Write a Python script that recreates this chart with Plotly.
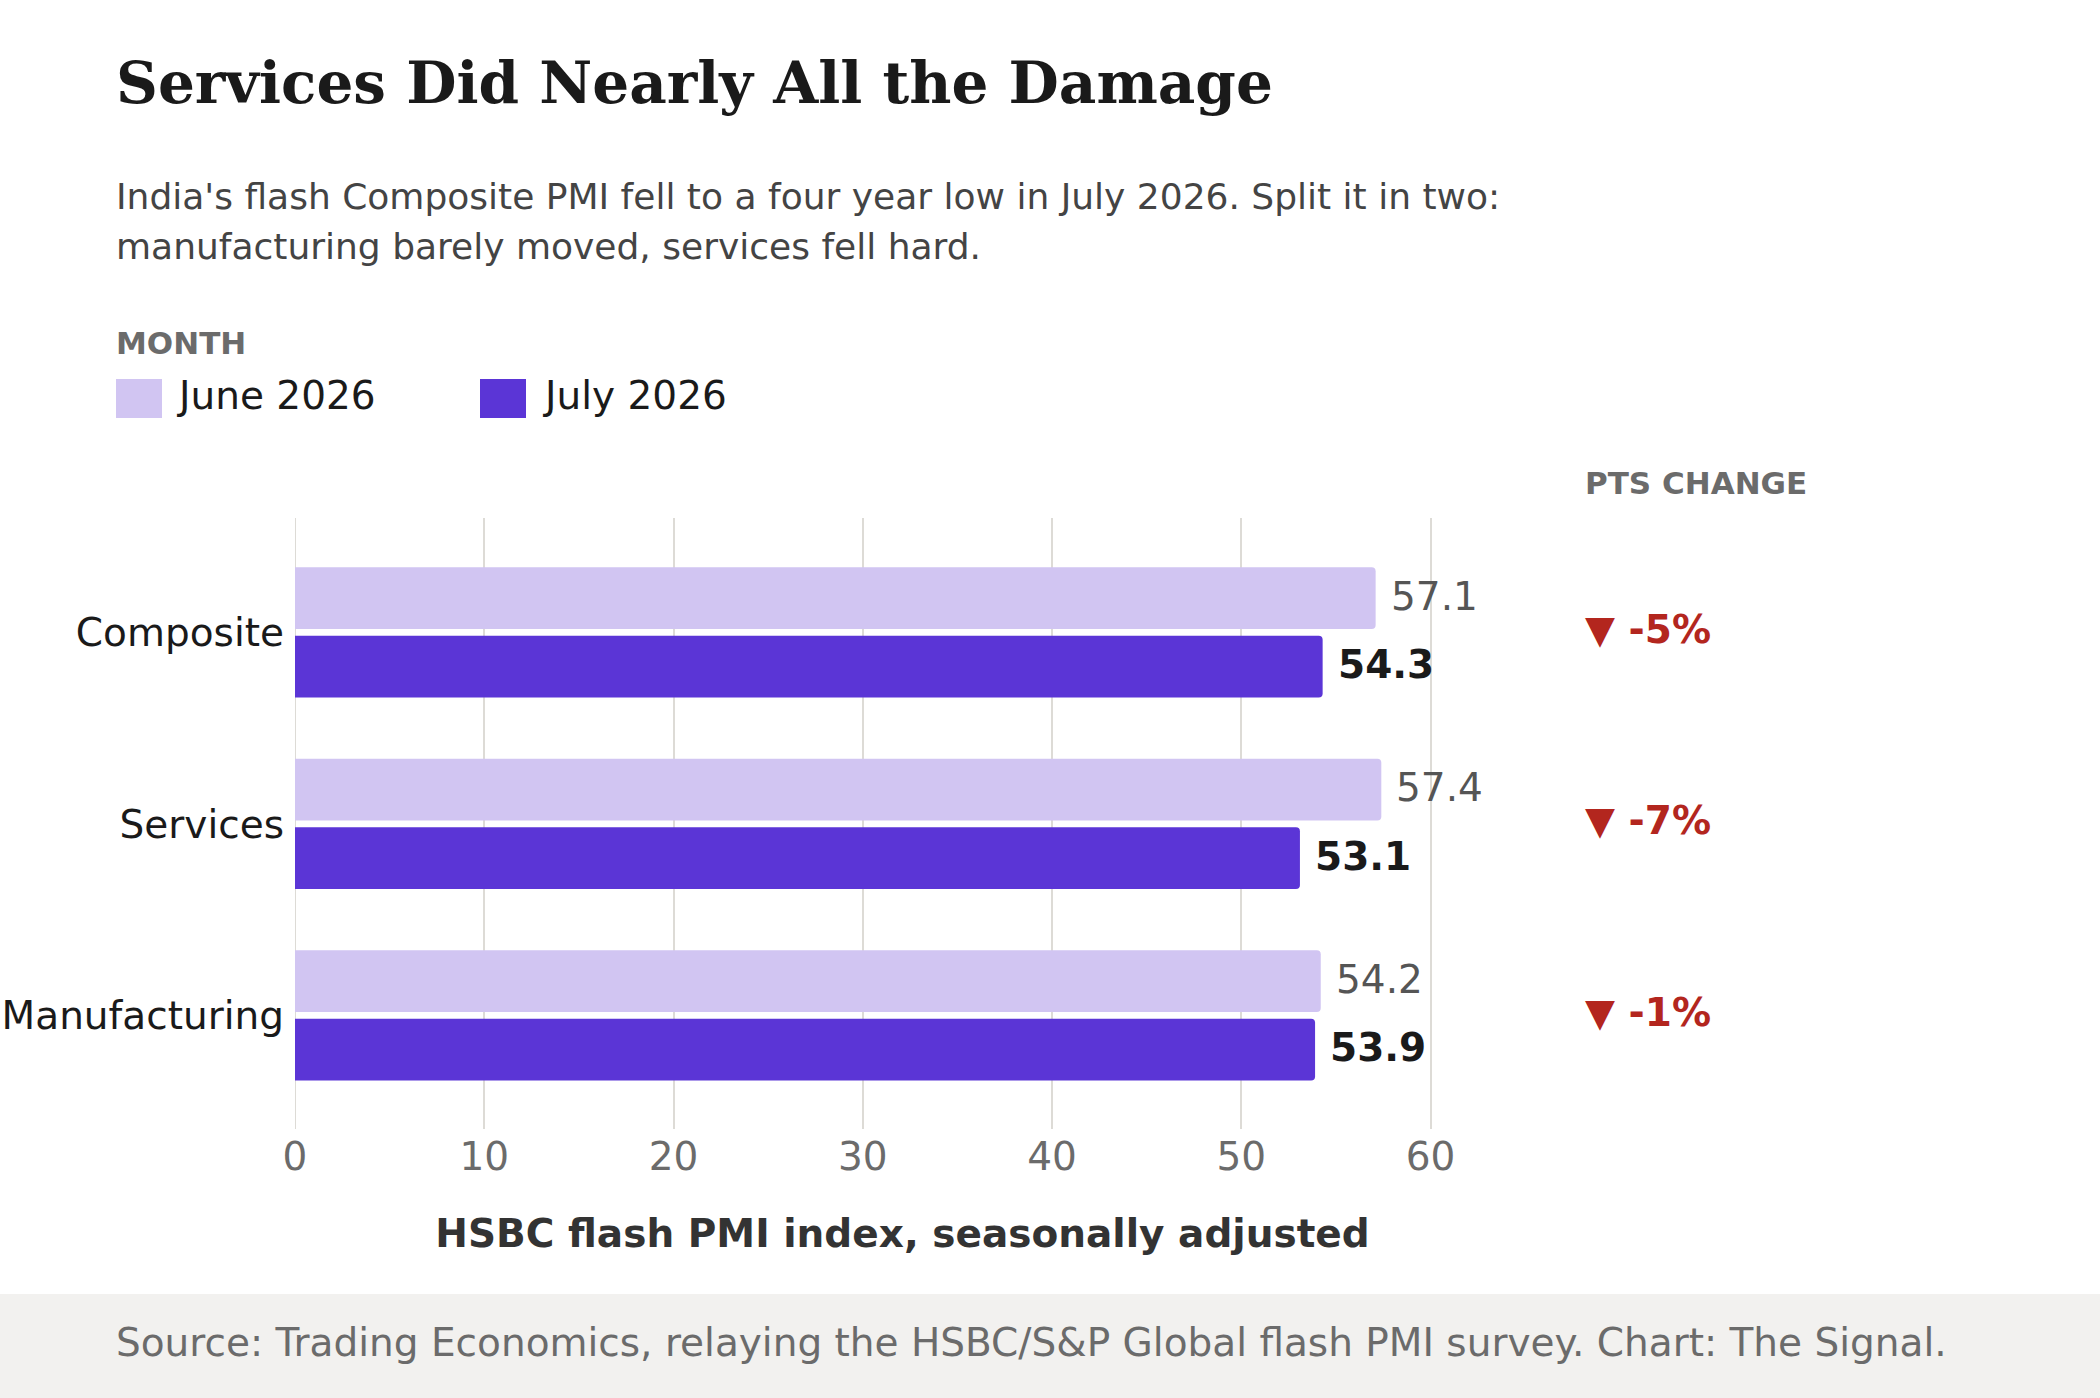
import plotly.graph_objects as go

# ---- data ----
categories = ["Composite", "Services", "Manufacturing"]
june_2026 = [57.1, 57.4, 54.2]
july_2026 = [54.3, 53.1, 53.9]
series_names = ["June 2026", "July 2026"]
x_ticks = [0, 10, 20, 30, 40, 50, 60]

W, H = 2100, 1398
JUNE_C = "#D1C5F2"
JULY_C = "#5B35D6"
RED = "#B3261E"
GRID = "#DDDBD6"
SANS = "DejaVu Sans, Noto Sans, sans-serif"
SERIF = "DejaVu Serif, serif"
FS = 39


def py(px):
    return 1 - px / H


def pxx(px):
    return px / W


fig = go.Figure()
fig.add_trace(go.Bar(y=categories, x=june_2026, name=series_names[0], orientation="h",
                     marker=dict(color=JUNE_C, cornerradius=4, line=dict(width=0)),
                     hoverinfo="x+y"))
fig.add_trace(go.Bar(y=categories, x=july_2026, name=series_names[1], orientation="h",
                     marker=dict(color=JULY_C, cornerradius=4, line=dict(width=0)),
                     hoverinfo="x+y"))

ann = []
slot = (1 - 0.284) / 2
for i, c in enumerate(categories):
    ann.append(dict(x=june_2026[i], y=i - slot / 2, xref="x", yref="y", text=f"{june_2026[i]:.1f}",
                    showarrow=False, xanchor="left", yanchor="middle", xshift=13, yshift=2,
                    font=dict(family=SANS, size=FS, color="#555555")))
    ann.append(dict(x=july_2026[i], y=i + slot / 2, xref="x", yref="y", text=f"<b>{july_2026[i]:.1f}</b>",
                    showarrow=False, xanchor="left", yanchor="middle", xshift=13, yshift=2,
                    font=dict(family=SANS, size=FS, color="#1a1a1a")))
    pct = (july_2026[i] - june_2026[i]) / june_2026[i] * 100
    arrow = "▼" if pct < 0 else "▲"
    ann.append(dict(x=pxx(1583), y=i, xref="paper", yref="y", text=f"<b>{arrow} {round(pct):d}%</b>",
                    showarrow=False, xanchor="left", yanchor="middle", yshift=3,
                    font=dict(family=SANS, size=FS, color=RED)))

# header texts
ann += [
    dict(x=pxx(114), y=py(83), xref="paper", yref="paper", text="<b>Services Did Nearly All the Damage</b>",
         showarrow=False, xanchor="left", yanchor="middle", font=dict(family=SERIF, size=58, color="#1a1a1a")),
    dict(x=pxx(114), y=py(196), xref="paper", yref="paper",
         text="India's flash Composite PMI fell to a four year low in July 2026. Split it in two:",
         showarrow=False, xanchor="left", yanchor="middle", font=dict(family=SANS, size=36, color="#444444")),
    dict(x=pxx(114), y=py(247), xref="paper", yref="paper",
         text="manufacturing barely moved, services fell hard.",
         showarrow=False, xanchor="left", yanchor="middle", font=dict(family=SANS, size=36, color="#444444")),
    dict(x=pxx(114), y=py(343), xref="paper", yref="paper", text="<b>MONTH</b>",
         showarrow=False, xanchor="left", yanchor="middle", font=dict(family=SANS, size=31, color="#6b6b6b")),
    dict(x=pxx(174), y=py(396), xref="paper", yref="paper", text=series_names[0],
         showarrow=False, xanchor="left", yanchor="middle", font=dict(family=SANS, size=FS, color="#1a1a1a")),
    dict(x=pxx(540), y=py(396), xref="paper", yref="paper", text=series_names[1],
         showarrow=False, xanchor="left", yanchor="middle", font=dict(family=SANS, size=FS, color="#1a1a1a")),
    dict(x=pxx(1583), y=py(483), xref="paper", yref="paper", text="<b>PTS CHANGE</b>",
         showarrow=False, xanchor="left", yanchor="middle", font=dict(family=SANS, size=31, color="#6b6b6b")),
    dict(x=pxx(114), y=py(1342), xref="paper", yref="paper",
         text="Source: Trading Economics, relaying the HSBC/S&P Global flash PMI survey. Chart: The Signal.",
         showarrow=False, xanchor="left", yanchor="middle", font=dict(family=SANS, size=39, color="#6b6b6b")),
]

shapes = [
    dict(type="rect", xref="paper", yref="paper", x0=0, x1=1, y0=0, y1=py(1294),
         fillcolor="#F2F1EF", line=dict(width=0), layer="below"),
    dict(type="rect", xref="paper", yref="paper", x0=pxx(116), x1=pxx(162), y0=py(418), y1=py(379),
         fillcolor=JUNE_C, line=dict(width=0)),
    dict(type="rect", xref="paper", yref="paper", x0=pxx(480), x1=pxx(526), y0=py(418), y1=py(379),
         fillcolor=JULY_C, line=dict(width=0)),
    dict(type="line", xref="x", yref="paper", x0=x_ticks[0], x1=x_ticks[0], y0=py(1129), y1=py(518),
         line=dict(color=GRID, width=2), layer="below"),
]

fig.update_layout(
    width=W, height=H,
    margin=dict(l=0, r=0, t=0, b=0, autoexpand=False),
    paper_bgcolor="white", plot_bgcolor="white",
    barmode="group", bargap=0.284, bargroupgap=0.10,
    showlegend=False,
    annotations=ann, shapes=shapes,
    font=dict(family=SANS),
    xaxis=dict(domain=[pxx(295), pxx(1510)], range=[0, 64.2], tickvals=x_ticks, automargin=False,
               showgrid=True, gridcolor=GRID, gridwidth=2, zeroline=False, showline=False,
               ticks="", ticklabelstandoff=1,
               tickfont=dict(family=SANS, size=FS, color="#6b6b6b"),
               title=dict(text="<b>HSBC flash PMI index, seasonally adjusted</b>", standoff=41,
                          font=dict(family=SANS, size=FS, color="#333333"))),
    yaxis=dict(domain=[py(1129), py(518)], range=[2.593, -0.597], type="category", automargin=False,
               showgrid=False, zeroline=False, showline=False, ticks="", ticklabelstandoff=10,
               tickfont=dict(family=SANS, size=FS, color="#1a1a1a")),
)

fig.write_html("out.html")
